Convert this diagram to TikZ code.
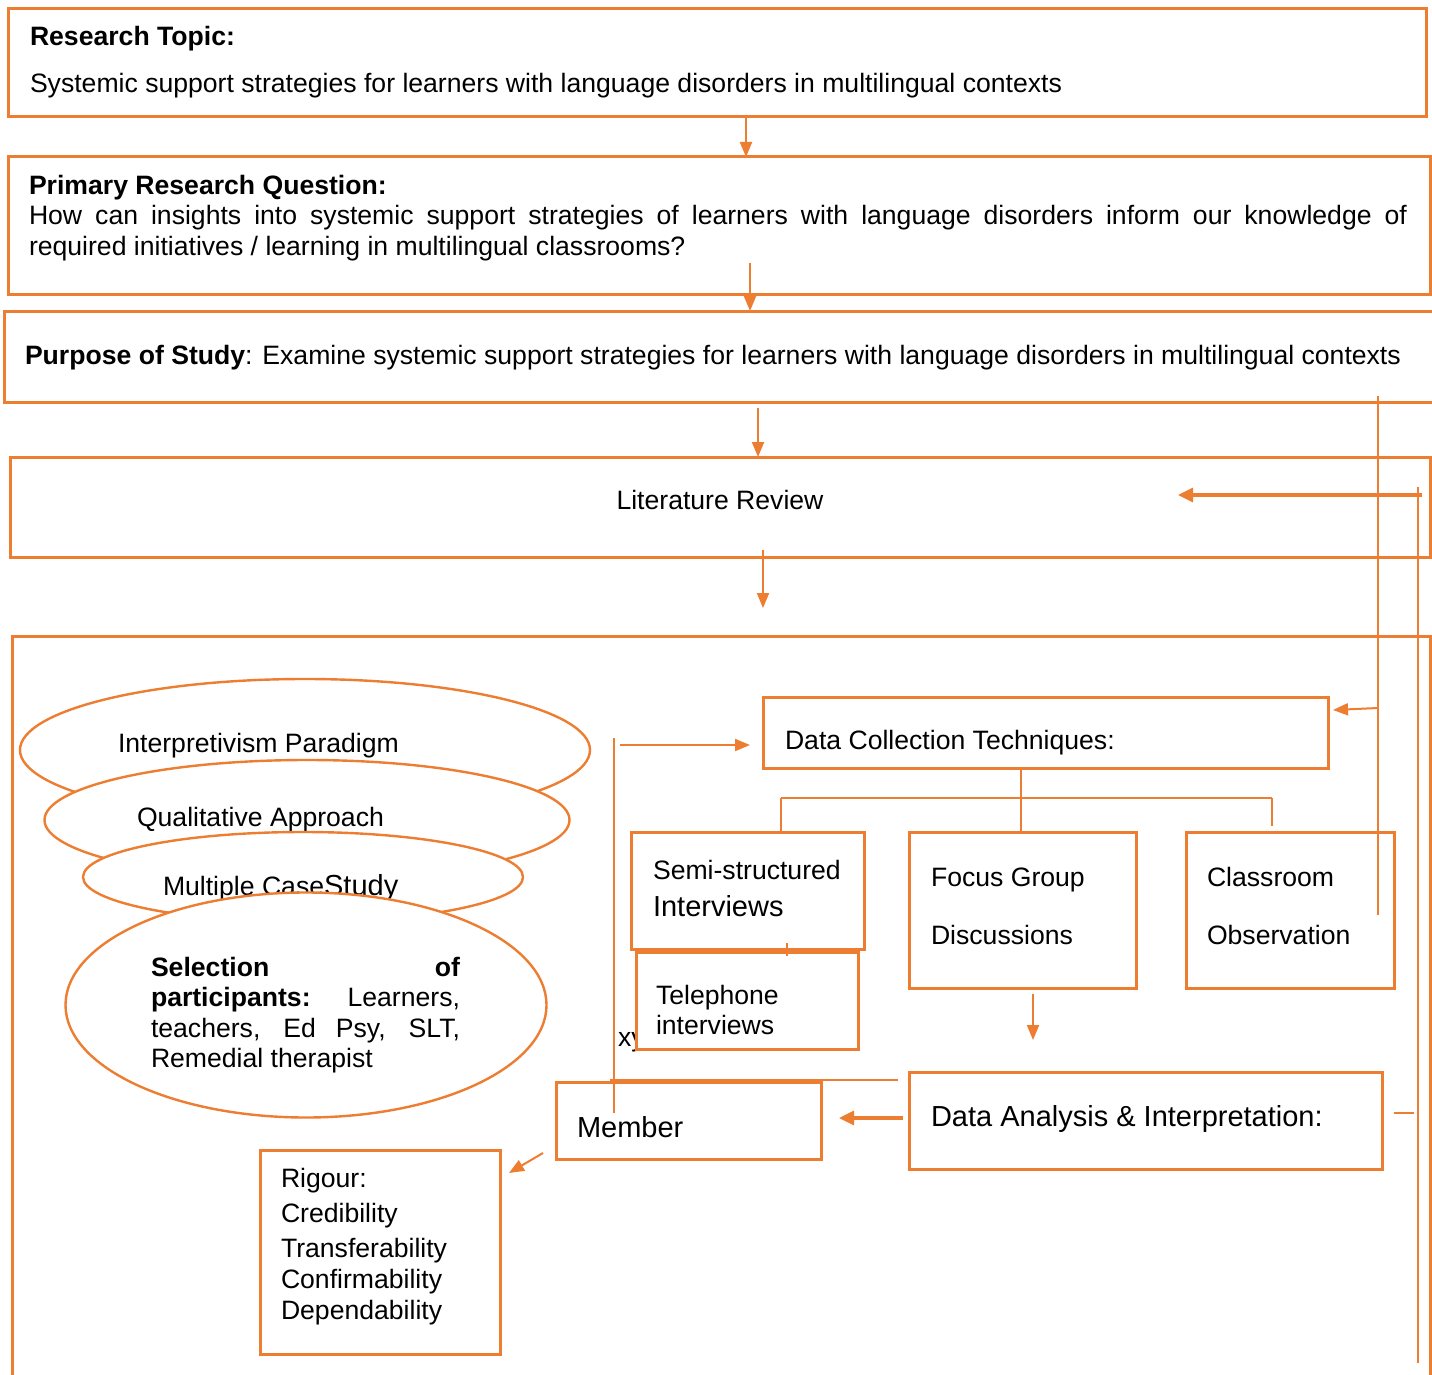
\documentclass[tikz,border=0pt]{standalone}
\usepackage{fontspec}
\setmainfont{Liberation Sans}
\usetikzlibrary{arrows.meta,shapes.geometric}
\definecolor{accent}{HTML}{ED7D31}
\newcommand\txtnorm{\fontsize{26.6}{30}\selectfont}
\newcommand\txtbig{\fontsize{29}{32}\selectfont}
\begin{document}
\begin{tikzpicture}[x=1pt,y=-1pt,
  frame/.style={draw=accent,line width=3pt,inner sep=0pt,outer sep=0pt,anchor=north west},
  oval/.style={ellipse,draw=accent,line width=2.4pt,fill=white,inner sep=0pt,outer sep=0pt},
  lbl/.style={anchor=base west,inner sep=0pt,outer sep=0pt,yshift=-1.5pt,font=\txtnorm},
  biglbl/.style={lbl,font=\txtbig},
  link/.style={draw=accent,line width=1.3pt},
  arr/.style={draw=accent,line width=2pt,-{Triangle[length=15pt,width=12pt]}},
  bigarr/.style={draw=accent,line width=3.2pt,-{Triangle[length=15pt,width=14pt]}},
]
\useasboundingbox (0,0) rectangle (1432,1375);
\fill[white] (0,0) rectangle (1432,1375);

% ---- stacked boxes at the top
\node[frame,minimum width=1418pt,minimum height=108pt] (topic) at (8,9) {};
\node[lbl] (topicA) at (30,44) {\textbf{Research Topic:}};
\node[lbl] (topicB) at (30,91) {Systemic support strategies for learners with language disorders in multilingual contexts};

\node[frame,minimum width=1422pt,minimum height=137pt] (question) at (8,157) {};
\node[lbl] (questionA) at (29,193) {\textbf{Primary Research Question:}};
\node[lbl] (questionB) at (29,223) {\makebox[1378pt][s]{How can insights into systemic support strategies of learners with language disorders inform our knowledge of}};
\node[lbl] (questionC) at (29,254) {required initiatives / learning in multilingual classrooms?};

\node[frame,minimum width=1430pt,minimum height=91pt] (purpose) at (4,311) {};
\node[lbl] (purposeA) at (25,363) {\textbf{Purpose of Study}: Examine systemic support strategies for learners with language disorders in multilingual contexts};

\node[frame,minimum width=1420pt,minimum height=100pt] (litrev) at (10,457) {};
\node[lbl,anchor=base] (litrevA) at (720,508) {Literature Review};

% ---- research design frame (runs off the bottom)
\node[frame,minimum width=1418pt,minimum height=800pt] (design) at (12,636) {};

% ---- downward arrows between the top boxes
\coordinate (s1) at (746,115);
\coordinate (s2) at (750,263);
\coordinate (s3) at (758,408);
\coordinate (s4) at (763,550);
\coordinate (e4) at (763,608);
\draw[arr] (s1) -- (s1 |- question.north);
\draw[arr] (s2) -- (s2 |- purpose.north);
\draw[arr] (s3) -- (s3 |- litrev.north);
\draw[arr] (s4) -- (e4);

% ---- ellipses: paradigm, approach, design, participants
\node[oval,minimum width=570pt,minimum height=142pt] (paradigm) at (305,750) {};
\node[lbl] (paradigmA) at (118,751) {Interpretivism Paradigm};
\node[oval,minimum width=525pt,minimum height=120pt] (approach) at (307,820) {};
\node[lbl] (approachA) at (137,825) {Qualitative Approach};
\node[oval,minimum width=440pt,minimum height=90pt] (casestudy) at (303,877) {};
\node[lbl] (casestudyA) at (163,894) {Multiple Case{\txtbig Study}};
\node[oval,minimum width=481pt,minimum height=225pt] (participants) at (306,1005) {};
\node[lbl] (partA) at (151,975) {\makebox[309pt][s]{\textbf{Selection}\hfill\textbf{of}}};
\node[lbl] (partB) at (151,1005) {\makebox[309pt][s]{\textbf{participants:} \ Learners,}};
\node[lbl] (partC) at (151,1036) {\makebox[309pt][s]{teachers, Ed Psy, SLT,}};
\node[lbl] (partD) at (151,1066) {Remedial therapist};

% ---- data collection
\node[frame,minimum width=565pt,minimum height=71pt] (dct) at (763,697) {};
\node[lbl] (dctA) at (785,748) {Data Collection Techniques:};

\node[frame,minimum width=233pt,minimum height=117pt] (semi) at (631,832) {};
\node[lbl] (semiA) at (653,878) {Semi-structured};
\node[biglbl] (semiB) at (653,915) {Interviews};

\node[lbl] (stray) at (618,1045) {xy};
\node[frame,fill=white,minimum width=222pt,minimum height=97pt] (tel) at (636,952) {};
\node[lbl] (telA) at (656,1003) {Telephone};
\node[lbl] (telB) at (656,1033) {interviews};

\node[frame,minimum width=227pt,minimum height=156pt] (focus) at (909,832) {};
\node[lbl] (focusA) at (931,885) {Focus Group};
\node[lbl] (focusB) at (931,943) {Discussions};

\node[frame,minimum width=208pt,minimum height=156pt] (obs) at (1186,832) {};
\node[lbl] (obsA) at (1207,885) {Classroom};
\node[lbl] (obsB) at (1207,943) {Observation};

% branch lines under the techniques box
\coordinate (fork) at (1021,798);
\coordinate (forkL) at (781,798);
\coordinate (forkR) at (1272,798);
\coordinate (forkRend) at (1272,826);
\draw[link] (dct.south -| fork) -- (fork |- focus.north);
\draw[link] (forkL) -- (forkR);
\draw[link] (forkL) -- (forkL |- semi.north);
\draw[link] (forkR) -- (forkRend);
\coordinate (tickA) at (787,943);
\coordinate (tickB) at (787,956);
\draw[link] (tickA) -- (tickB);

% ---- analysis, member checking, rigour
\node[frame,minimum width=473pt,minimum height=97pt] (dai) at (909,1072) {};
\node[biglbl] (daiA) at (931,1125) {Data Analysis \& Interpretation:};

\node[frame,minimum width=265pt,minimum height=77pt] (member) at (556,1082) {};
\node[biglbl] (memberA) at (577,1136) {Member};

\node[frame,minimum width=240pt,minimum height=204pt] (rigour) at (260,1150) {};
\node[lbl] (rigA) at (281,1186) {Rigour:};
\node[lbl] (rigB) at (281,1221) {Credibility};
\node[lbl] (rigC) at (281,1256) {Transferability};
\node[lbl] (rigD) at (281,1287) {Confirmability};
\node[lbl] (rigE) at (281,1318) {Dependability};

\coordinate (f1) at (1033,994);
\coordinate (f2) at (1033,1040);
\draw[arr] (f1) -- (f2);
\coordinate (d1) at (903,1118);
\coordinate (d2) at (839,1118);
\draw[bigarr] (d1) -- (d2);
\coordinate (m1) at (543,1153);
\coordinate (m2) at (509,1173);
\draw[arr] (m1) -- (m2);

% feedback line on the left into the techniques box
\coordinate (l1) at (614,1113);
\coordinate (l2) at (614,738);
\coordinate (l3) at (620,745);
\coordinate (l4) at (750,745);
\draw[link] (l1) -- (l2);
\draw[arr] (l3) -- (l4);
\coordinate (t1) at (610,1080);
\coordinate (t2) at (898,1080);
\draw[link] (t1) -- (t2);

% ---- feedback lines on the right
\coordinate (r1) at (1378,396);
\coordinate (r2) at (1378,915);
\draw[link] (r1) -- (r2);
\coordinate (r3) at (1378,708);
\coordinate (r4) at (1333,710);
\draw[arr] (r3) -- (r4);
\coordinate (q1) at (1418,487);
\coordinate (q2) at (1418,1363);
\draw[link] (q1) -- (q2);
\coordinate (q3) at (1422,495);
\coordinate (q4) at (1178,495);
\draw[bigarr] (q3) -- (q4);
\coordinate (u1) at (1394,1113);
\coordinate (u2) at (1414,1113);
\draw[link] (u1) -- (u2);
\end{tikzpicture}
\end{document}
